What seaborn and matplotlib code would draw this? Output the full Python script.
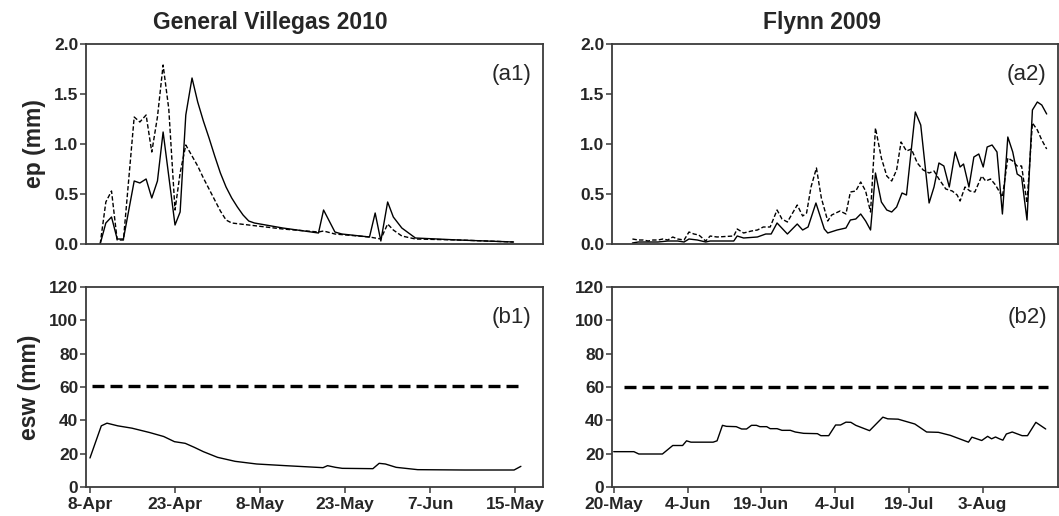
import numpy as np
import pandas as pd
import matplotlib
matplotlib.use("Agg")
import matplotlib.pyplot as plt
import seaborn as sns

# ---------------- data ----------------
# General Villegas 2010 (days after 8-Apr)
gv_ep_solid_day = [1.8, 2.8, 3.8, 4.8, 5.9, 7.8, 8.8, 9.9, 10.9, 11.9, 12.9, 15.0, 15.9, 16.9, 18.0,
                   19, 20, 21, 22, 23, 24, 25, 26, 27, 28, 29, 34, 40.3, 41.2, 43.2, 44.4,
                   49.3, 50.3, 51.3, 52.5, 53.5, 55.0, 57.4, 65.0, 74.7]
gv_ep_solid = [0.0, 0.21, 0.27, 0.05, 0.05, 0.63, 0.61, 0.65, 0.46, 0.63, 1.12, 0.19, 0.32, 1.29, 1.66,
               1.42, 1.23, 1.06, 0.88, 0.71, 0.57, 0.46, 0.37, 0.29, 0.23, 0.21, 0.16, 0.11, 0.34, 0.12, 0.10,
               0.07, 0.31, 0.03, 0.42, 0.27, 0.16, 0.06, 0.04, 0.02]
gv_ep_dash_day = [1.8, 2.8, 3.8, 4.8, 5.9, 7.8, 8.8, 9.9, 10.9, 11.9, 12.9, 13.9, 15.0, 15.9, 16.9,
                  18, 19, 20, 21, 22, 23, 24, 25, 28, 34, 40.3, 41.2, 43.2, 49.3, 51.3,
                  52.5, 53.5, 55.0, 57.4, 65.0, 74.7]
gv_ep_dash = [0.0, 0.42, 0.53, 0.04, 0.04, 1.27, 1.22, 1.29, 0.92, 1.27, 1.79, 1.35, 0.34, 0.71, 0.99,
              0.88, 0.78, 0.66, 0.55, 0.44, 0.33, 0.24, 0.21, 0.19, 0.15, 0.12, 0.13, 0.10, 0.07, 0.05,
              0.20, 0.14, 0.08, 0.05, 0.04, 0.02]
gv_esw_day = [0, 2, 3, 4.9, 7.4, 10.5, 13, 14.9, 16.8, 18.4, 20, 22.5, 25.6, 29.4, 34.5, 41.1, 41.9,
              43.3, 44.5, 49.9, 51, 52.1, 54, 57.8, 66, 74.8, 76]
gv_esw = [17.4, 36.7, 38.3, 36.7, 35.3, 32.7, 30.3, 27.2, 26.2, 23.8, 21.2, 17.8, 15.4, 13.8, 12.8, 11.6, 12.8,
          11.8, 11.2, 11.0, 14.2, 13.8, 11.8, 10.4, 10.2, 10.2, 12.4]
gv_thr_day = [0.4, 76]
gv_thr = [60.7, 60.7]

# Flynn 2009 (days after 20-May)
fl_ep_solid_day = [3.8, 5, 7, 9, 11, 13, 14.3, 15.3, 17, 18.7, 19.6, 21, 24.4, 25.1, 26.4, 29.2, 30.9, 32,
                   33.2, 35.3, 37.3, 38.4, 39.5, 41.1, 42.8, 43.5, 45.4, 47.2, 48.1, 49.2, 50.2, 51.2,
                   52.2, 53.2, 54.4, 55.5, 56.5, 57.5, 58.6, 59.5, 61.3, 62.4, 64.1, 65.1, 66.1, 67.1,
                   68.2, 69.4, 70.4, 71.1, 72.2, 73.2, 74.2, 75.1, 75.9, 76.9, 77.9, 79.0, 80.1, 81.1,
                   82.0, 82.9, 84.0, 85.1, 86.1, 87.0, 88.0]
fl_ep_solid = [0.01, 0.02, 0.02, 0.02, 0.03, 0.03, 0.02, 0.05, 0.04, 0.02, 0.03, 0.03, 0.03, 0.08, 0.06, 0.07,
               0.10, 0.10, 0.21, 0.10, 0.20, 0.14, 0.17, 0.41, 0.15, 0.11, 0.14, 0.16, 0.24, 0.25, 0.30, 0.23,
               0.14, 0.71, 0.42, 0.34, 0.32, 0.37, 0.51, 0.49, 1.32, 1.19, 0.41, 0.57, 0.81, 0.78,
               0.57, 0.92, 0.77, 0.80, 0.57, 0.87, 0.90, 0.77, 0.97, 0.99, 0.92, 0.30, 1.07, 0.92,
               0.70, 0.67, 0.24, 1.34, 1.42, 1.39, 1.30]
fl_ep_dash_day = [3.8, 5, 6, 7, 8, 9, 10, 11, 12, 13, 14.3, 15.3, 16.3, 17.3, 18.7, 19.6, 21, 24.4, 25.1,
                  26.4, 28, 29.2, 30.4, 31.8, 33.2, 34.2, 35.3, 37.3, 38.4, 39.2, 40.1, 41.2, 42.2, 43.5,
                  44.3, 46, 47.2, 48.1, 49.2, 50.2, 51.2, 52.2, 53.2, 54.4, 55.5, 56.5, 57.5, 58.4, 59.5,
                  60.5, 61.7, 62.9, 64.1, 65.1, 66.1, 67.5, 68.8, 69.8, 70.4, 71.4, 72.4, 73.4, 74.8,
                  75.6, 76.6, 77.6, 79.0, 80.1, 81.1, 82.0, 82.9, 84.0, 85.1, 86.1, 87.0, 88.0]
fl_ep_dash = [0.05, 0.04, 0.04, 0.03, 0.04, 0.04, 0.05, 0.04, 0.07, 0.05, 0.04, 0.12, 0.10, 0.09, 0.03, 0.08,
              0.07, 0.08, 0.15, 0.11, 0.13, 0.14, 0.17, 0.17, 0.34, 0.25, 0.22, 0.39, 0.28, 0.31, 0.57, 0.76,
              0.46, 0.23, 0.29, 0.33, 0.30, 0.52, 0.53, 0.62, 0.53, 0.32, 1.16, 0.86, 0.68, 0.63, 0.74, 1.02,
              0.93, 0.95, 0.81, 0.74, 0.71, 0.73, 0.65, 0.55, 0.53, 0.49, 0.43, 0.57, 0.53, 0.52, 0.68,
              0.63, 0.65, 0.59, 0.47, 0.86, 0.83, 0.78, 0.78, 0.41, 1.21, 1.14, 1.04, 0.95]
fl_esw_day = [0, 4.1, 5.1, 9.9, 12, 14, 14.8, 15.7, 20.2, 21, 22.1, 22.9, 24.9, 26, 27, 28, 29, 29.7, 31.1,
              31.8, 33.2, 34.2, 35.9, 36.9, 38.6, 41.4, 42.1, 43.7, 45.1, 46.1, 47.2, 48.2, 49.2, 52,
              54.7, 55.7, 57.8, 61.2, 63.6, 66, 68.4, 72.1, 72.8, 74.8, 76, 76.8, 77.6, 78.4, 79.1, 79.8,
              81, 83, 84.1, 85.8, 87.8]
fl_esw = [21.2, 21.2, 19.8, 19.8, 24.9, 24.9, 27.7, 26.9, 26.9, 27.7, 37.0, 36.4, 36.2, 34.8, 34.8, 37.0, 37.0,
          36.2, 36.2, 35.0, 35.0, 34.0, 34.0, 33.0, 32.2, 32.0, 30.8, 30.8, 37.2, 37.2, 38.9, 38.8, 37.0, 33.8,
          41.9, 40.9, 40.7, 37.8, 33.0, 32.8, 31.0, 26.9, 29.9, 27.9, 30.4, 28.9, 30.0, 28.9, 28.1, 31.8,
          33.0, 30.8, 30.8, 38.8, 34.8]
fl_thr_day = [2.0, 88.3]
fl_thr = [60.1, 60.1]

gv_tick_days = [0, 15, 30, 45, 60, 75]
gv_tick_labels = ["8-Apr", "23-Apr", "8-May", "23-May", "7-Jun", "15-May"]
fl_tick_days = [0, 15, 30, 45, 60, 75]
fl_tick_labels = ["20-May", "4-Jun", "19-Jun", "4-Jul", "19-Jul", "3-Aug"]

ep_ticks = [0.0, 0.5, 1.0, 1.5, 2.0]
esw_ticks = [0, 20, 40, 60, 80, 100, 120]

titles = ["General Villegas 2010", "Flynn 2009"]
panel_labels = ["(a1)", "(a2)", "(b1)", "(b2)"]

# ---------------- style ----------------
sns.set_theme(style="ticks")
plt.rcParams['font.family'] = ['Liberation Sans', 'DejaVu Sans']

W, H = 1059, 516
fig = plt.figure(figsize=(W / 100, H / 100), dpi=100)


def axpos(x0, x1, y0, y1):
    return [x0 / W, 1 - y1 / H, (x1 - x0) / W, (y1 - y0) / H]


ax_a1 = fig.add_axes(axpos(86, 543, 44, 244))
ax_a2 = fig.add_axes(axpos(612, 1058, 44, 244))
ax_b1 = fig.add_axes(axpos(86, 543, 287, 487))
ax_b2 = fig.add_axes(axpos(612, 1058, 287, 487))

TICK_FS = 12.5
spine_col = "#3a3a3a"
for ax in [ax_a1, ax_a2, ax_b1, ax_b2]:
    for s in ax.spines.values():
        s.set_visible(True)
        s.set_color(spine_col)
        s.set_linewidth(1.3)
    ax.tick_params(axis='both', direction='out', length=4, width=1.1, color=spine_col,
                   labelsize=TICK_FS, pad=1.5)
    ax.tick_params(axis='x', pad=3.5)

# ep panels
for ax, sd, sv, dd, dv in [(ax_a1, gv_ep_solid_day, gv_ep_solid, gv_ep_dash_day, gv_ep_dash),
                           (ax_a2, fl_ep_solid_day, fl_ep_solid, fl_ep_dash_day, fl_ep_dash)]:
    sns.lineplot(x=sd, y=sv, ax=ax, color="black", lw=1.0, estimator=None, sort=False)
    sns.lineplot(x=dd, y=dv, ax=ax, color="black", lw=1.0, estimator=None, sort=False,
                 linestyle=(0, (3.2, 1.6)))
    ax.set_ylim(0, 2.0)
    ax.set_yticks(ep_ticks)
    ax.set_yticklabels([f"{t:.1f}" for t in ep_ticks], fontweight='bold', fontsize=TICK_FS)
    ax.set_xticks([])

ax_a1.set_xlim(-0.7, 79.9)
ax_a2.set_xlim(-0.35, 90.3)

# esw panels
for ax, d, v, td, tv in [(ax_b1, gv_esw_day, gv_esw, gv_thr_day, gv_thr),
                         (ax_b2, fl_esw_day, fl_esw, fl_thr_day, fl_thr)]:
    sns.lineplot(x=d, y=v, ax=ax, color="black", lw=1.0, estimator=None, sort=False)
    sns.lineplot(x=td, y=tv, ax=ax, color="black", lw=2.4, estimator=None, sort=False,
                 linestyle=(0, (3.6, 1.8)))
    ax.set_ylim(0, 120)
    ax.set_yticks(esw_ticks)
    ax.set_yticklabels([str(t) for t in esw_ticks], fontweight='bold', fontsize=TICK_FS)

ax_b1.set_xlim(-0.7, 79.9)
ax_b2.set_xlim(-0.35, 90.3)
ax_b1.set_xticks(gv_tick_days)
ax_b1.set_xticklabels(gv_tick_labels, fontweight='bold', fontsize=TICK_FS)
ax_b2.set_xticks(fl_tick_days)
ax_b2.set_xticklabels(fl_tick_labels, fontweight='bold', fontsize=TICK_FS)

for ax in [ax_a1, ax_a2, ax_b1, ax_b2]:
    ax.set_xlabel("")
    ax.set_ylabel("")

ax_a1.set_ylabel("ep (mm)", fontsize=16.5, fontweight='bold', labelpad=6)
ax_b1.set_ylabel("esw (mm)", fontsize=16.5, fontweight='bold', labelpad=6)

# panel labels
for ax, lab in zip([ax_a1, ax_a2, ax_b1, ax_b2], panel_labels):
    ax.text(0.975, 0.9, lab, transform=ax.transAxes, ha='right', va='top', fontsize=16)

# titles
fig.text(270 / W, 1 - 22 / H, titles[0], ha='center', va='center', fontsize=16.5, fontweight='bold')
fig.text(822 / W, 1 - 22 / H, titles[1], ha='center', va='center', fontsize=16.5, fontweight='bold')

fig.savefig("out.png", dpi=100, facecolor='white')
